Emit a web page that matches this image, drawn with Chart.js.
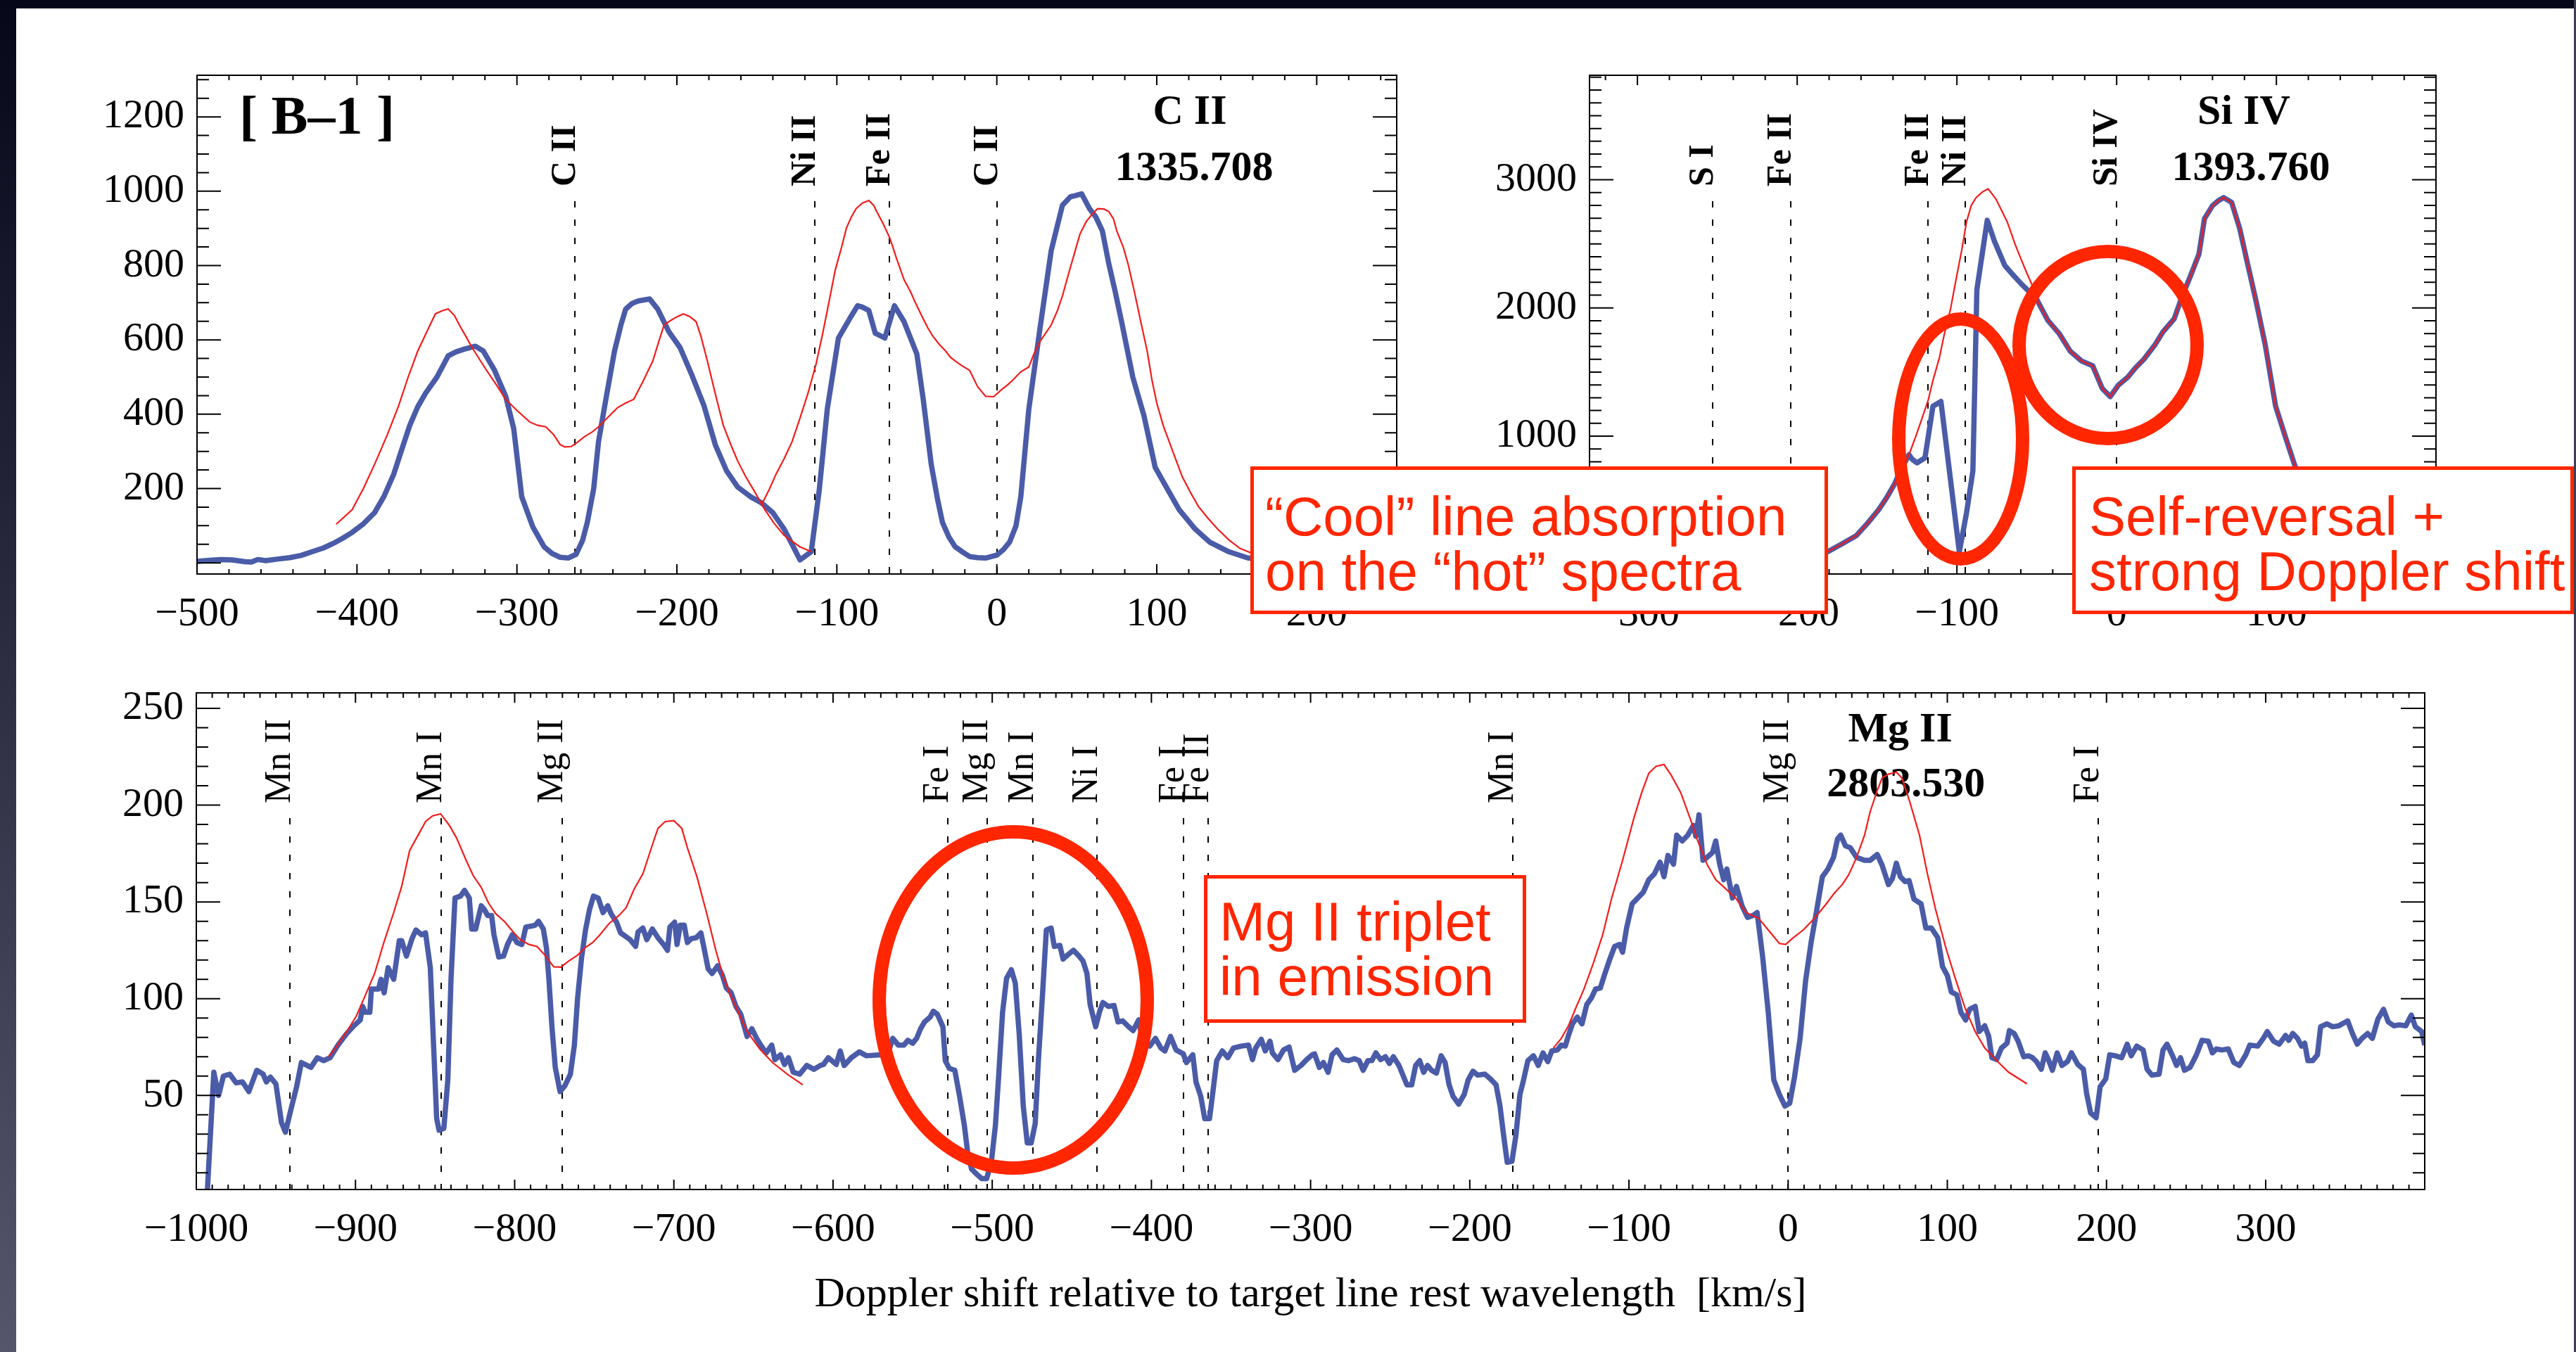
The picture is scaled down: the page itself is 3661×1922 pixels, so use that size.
<!DOCTYPE html>
<html>
<head>
<meta charset="utf-8">
<script src="https://cdn.jsdelivr.net/npm/chart.js@4/dist/chart.umd.min.js"></script>
<style>
  body { margin: 0; width: 3661px; height: 1922px; overflow: hidden; position: relative; background: #fff; }
  canvas { position: absolute; }
  .note { position: absolute; box-sizing: border-box; border: 5px solid #ff2600; background: #fff; color: #ff2600;
          font: 78px/78px "Liberation Sans", Arial, sans-serif; white-space: nowrap; }
  .ring { position: absolute; box-sizing: border-box; border: 19px solid #ff2600; border-radius: 50%; }
  .band { position: absolute; }
</style>
</head>
<body>
<canvas id="cTL" width="1915" height="899" style="left:80px;top:47px"></canvas>
<canvas id="cTR" width="1413" height="899" style="left:2059px;top:47px"></canvas>
<canvas id="cB" width="3377" height="952" style="left:79px;top:925px"></canvas>

<div class="ring" style="left:2689px;top:444px;width:195px;height:360px"></div>
<div class="ring" style="left:2860px;top:348px;width:272px;height:285px"></div>
<div class="ring" style="left:1240px;top:1173px;width:400px;height:497px"></div>

<div class="note" style="left:1777px;top:663px;width:821px;height:210px;padding:27px 0 0 16px">“Cool” line absorption<br>on the “hot” spectra</div>
<div class="note" style="left:2945px;top:663px;width:713px;height:210px;padding:27px 0 0 19px">Self-reversal +<br>strong Doppler shift</div>
<div class="note" style="left:1711px;top:1244px;width:458px;height:210px;padding:22px 0 0 17px">Mg II triplet<br>in emission</div>

<div class="band" style="left:0;top:0;width:3661px;height:12px;background:#07071a"></div>
<div class="band" style="left:0;top:0;width:23px;height:1922px;background:linear-gradient(#07071a,#55556c)"></div>
<div class="band" style="left:3658px;top:0;width:3px;height:1922px;background:#3e3d52"></div>

<script>
// ---- C II 1335.708 panel ----
const ciiVel = [
  -500, -492, -485, -478, -470, -466, -462, -457, -450, -442,
  -435, -428, -421, -415, -409, -403, -396, -389, -383, -377,
  -372, -367, -362, -357, -350, -343, -338, -333, -326, -321,
  -314, -307, -302, -297, -290, -283, -278, -273, -268, -263,
  -259, -256, -252, -249, -244, -239, -235, -232, -228, -224,
  -217, -212, -205, -198, -191, -183, -176, -169, -162, -154,
  -147, -140, -133, -128, -123, -116, -111, -106, -99, -92,
  -87, -84, -80, -76, -70, -64, -58, -50, -46, -41,
  -37, -34, -30, -26, -21, -17, -12, -7, 0, 4,
  8, 12, 15, 20, 27, 34, 41, 46, 49, 53,
  58, 62, 66, 70, 74, 78, 85, 92, 99, 107,
  114, 124, 133, 145, 157, 170, 190, 220, 250
];
const ciiObs = [
  4, 7, 9, 8, 3, 2, 9, 6, 10, 14,
  20, 30, 40, 52, 66, 82, 105, 135, 180, 239,
  305, 370, 420, 457, 500, 557, 568, 575, 583, 570,
  518, 448, 361, 178, 96, 43, 25, 15, 13, 23,
  60, 109, 200, 326, 450, 570, 640, 683, 698, 705,
  710, 683, 622, 579, 509, 422, 318, 248, 204, 178,
  161, 135, 91, 50, 8, 30, 196, 413, 605, 657,
  692, 688, 679, 618, 605, 692, 649, 562, 440, 265,
  170, 109, 70, 43, 28, 17, 14, 13, 21, 35,
  56, 100, 178, 413, 631, 840, 962, 985, 988, 993,
  953, 930, 893, 805, 730, 649, 500, 396, 257, 196,
  143, 91, 56, 30, 13, 8, 5, 3, 3
];
const ciiRefVelA = [
  -413, -403, -396, -389, -381, -374, -368, -362, -356, -351,
  -347, -343, -339, -336, -332, -328, -323, -319, -313, -307,
  -300, -292, -287, -282, -277, -273, -270, -266, -262, -258,
  -253, -249, -243, -237, -232, -227, -221, -215, -211, -208,
  -204, -200, -196, -192, -188, -185, -181, -176, -171, -166,
  -162, -157, -152, -145, -139, -133, -128, -123, -116
];
const ciiRefA = [
  104, 143, 200, 265, 345, 422, 500, 570, 625, 670,
  678, 683, 665, 640, 610, 579, 545, 518, 480, 440,
  410, 379, 370, 366, 345, 318, 312, 313, 325, 339,
  352, 366, 392, 418, 430, 440, 490, 544, 600, 640,
  652, 662, 670, 663, 649, 610, 544, 455, 370, 315,
  274, 232, 196, 143, 105, 74, 58, 43, 30
];
const ciiRefVelB = [
  -147, -142, -138, -133, -128, -123, -118, -113, -109, -105,
  -101, -97, -94, -91, -88, -84, -80, -77, -75, -71,
  -67, -65, -63, -58, -54, -51, -47, -43, -40, -36,
  -32, -29, -25, -22, -17, -12, -7, -2, 3, 7,
  10, 15, 20, 23, 27, 34, 38, 41, 45, 49,
  52, 56, 60, 63, 67, 70, 73, 75, 79, 82,
  86, 90, 94, 97, 100, 104, 110, 116, 121, 126,
  132, 138, 145, 152, 160, 170
];
const ciiRefB = [
  157, 200, 239, 280, 326, 390, 457, 535, 614, 700,
  788, 850, 901, 930, 953, 968, 975, 962, 945, 912,
  875, 850, 823, 762, 730, 701, 665, 631, 610, 588,
  570, 553, 540, 531, 518, 474, 448, 447, 466, 480,
  492, 514, 527, 560, 596, 640, 680, 718, 780, 840,
  885, 919, 940, 953, 952, 945, 925, 893, 850, 805,
  730, 649, 570, 492, 430, 370, 300, 231, 190, 152,
  120, 91, 62, 39, 25, 15
];
const ciiLines = [-263.6, -113.6, -67, 0];
const ciiNames = ['C II', 'Ni II', 'Fe II', 'C II'];
const ciiXTicks = [-500, -400, -300, -200, -100, 0, 100, 200];
const ciiYTicks = [0, 200, 400, 600, 800, 1000, 1200];

// ---- Si IV 1393.760 panel ----
const siivVel = [
  -330, -300, -270, -240, -210, -190, -181, -172, -163, -156,
  -149, -144, -139, -135, -130, -128, -125, -122, -120, -115,
  -110, -98.5, -94, -90, -87.5, -81, -76.5, -70, -65, -60,
  -55, -50, -43, -36, -29, -22, -15, -9, -4, 1,
  7, 12, 17, 24, 29, 36, 41, 46, 51.5, 55,
  60, 64, 67, 72, 77, 82, 87.5, 93, 99.5, 106,
  112, 120, 130, 145, 165, 199.9
];
const siivObs = [
  20, 25, 30, 40, 55, 80, 98, 160, 224, 320,
  426, 520, 628, 740, 855, 820, 792, 815, 830, 1234,
  1271, 98, 400, 729, 2142, 2684, 2520, 2331, 2260, 2192,
  2130, 2066, 1902, 1801, 1662, 1587, 1549, 1372, 1309, 1397,
  1460, 1536, 1599, 1713, 1814, 1915, 2091, 2243, 2419, 2697,
  2798, 2840, 2861, 2823, 2621, 2343, 2041, 1713, 1234, 981,
  754, 500, 300, 180, 120, 80
];
const siivRefVel = [
  -330, -300, -270, -240, -210, -190, -181, -172, -163, -156,
  -149, -144, -139, -135, -130, -126, -122, -118, -115, -111,
  -108, -104, -101, -97, -94, -91, -88, -84, -80.5, -78,
  -75.5, -72, -68.5, -63.5, -60, -56.5, -53, -50, -43, -36,
  -29, -22, -15, -9, -4, 1, 7, 12, 17, 24,
  29, 36, 41, 46, 51.5, 55, 60, 64, 67, 72,
  77, 82, 87.5, 93, 99.5, 106, 112, 120, 130, 145,
  165, 199.9
];
const siivRef = [
  20, 25, 30, 40, 55, 80, 98, 160, 224, 320,
  426, 520, 628, 740, 855, 990, 1133, 1280, 1435, 1610,
  1789, 1990, 2192, 2450, 2671, 2800, 2861, 2905, 2929, 2890,
  2848, 2760, 2671, 2495, 2385, 2280, 2180, 2066, 1902, 1801,
  1662, 1587, 1549, 1372, 1309, 1397, 1460, 1536, 1599, 1713,
  1814, 1915, 2091, 2243, 2419, 2697, 2798, 2840, 2861, 2823,
  2621, 2343, 2041, 1713, 1234, 981, 754, 500, 300, 180,
  120, 80
];
const siivLines = [-253, -204, -118, -95, 0];
const siivNames = ['S I', 'Fe II', 'Fe II', 'Ni II', 'Si IV'];
const siivXTicks = [-300, -200, -100, 0, 100];
const siivYTicks = [0, 1000, 2000, 3000];

// ---- Mg II 2803.530 panel ----
const mgiiVel = [
  -993, -989, -986, -983, -979, -975, -971, -967, -962, -958,
  -956, -953.5, -950, -946.5, -944, -940.5, -937, -934, -928, -924,
  -920, -916, -911, -905.5, -901, -897, -895.5, -894, -891, -890,
  -885.5, -884, -882, -879.5, -876, -872.5, -871, -868, -864.5, -862,
  -858.5, -856, -853, -849, -847.5, -844.5, -842, -840, -837.5, -834,
  -831.5, -828.5, -827, -824.5, -821, -819, -817, -814.5, -813, -810,
  -807, -804.5, -801.5, -798.5, -795.5, -793, -789.5, -787, -785, -782,
  -780, -778.5, -776.5, -774.5, -771.5, -768.5, -765, -762.5, -760.5, -758,
  -755.5, -753, -750.5, -747.5, -744.5, -741.5, -739.5, -736, -733.5, -730,
  -727.5, -724, -722.5, -719.5, -717, -713.5, -710, -706.5, -704, -702.5,
  -699.5, -698, -696, -693.5, -691.5, -689, -686, -683, -681, -678.5,
  -676, -672.5, -669.5, -667, -664, -661, -658, -654, -651, -648,
  -645, -642, -638.5, -636.5, -633, -630.5, -628, -625, -621, -616.5,
  -612, -608, -606, -603, -598, -595.5, -593, -588.5, -583.5, -579,
  -570, -565, -562.5, -559, -555.5, -553, -550, -547.5, -545, -542.5,
  -539, -537, -534.5, -531, -529.5, -527, -523.5, -520.5, -517.5, -515.5,
  -513, -510, -506.5, -503.5, -500.5, -498, -496, -493.5, -491, -488,
  -485.5, -483, -480.5, -478, -475.5, -473, -471, -468.5, -466, -463,
  -461, -457.5, -455.5, -452, -449, -445.5, -443, -440.5, -438.5, -435,
  -432.5, -430.5, -427, -423.5, -421, -418, -415, -411.5, -408, -405.5,
  -401, -397.5, -394, -391.5, -388, -384.5, -380, -378, -374, -372,
  -369, -366.5, -363.5, -361.5, -359, -355.5, -352, -348.5, -343.5, -339,
  -336.5, -334.5, -331, -328.5, -325.5, -324, -320.5, -317, -313.5, -310,
  -306, -302.5, -299, -297.5, -294.5, -292, -289, -286.5, -283.5, -279.5,
  -276, -272.5, -269.5, -267, -264, -261.5, -259, -256, -253, -250.5,
  -248, -244.5, -242, -239.5, -236.5, -234, -231.5, -229, -226.5, -224,
  -221, -218, -215.5, -213, -210.5, -207, -203.5, -201, -198, -195,
  -190.5, -187, -183.5, -181, -179, -176.5, -173.5, -171, -168.5, -166.5,
  -163.5, -160, -157, -154, -151, -148.5, -145, -142.5, -140, -138,
  -135.5, -132.5, -129.5, -126.5, -123.5, -121, -118, -115.5, -112, -109,
  -106, -104, -101.5, -98, -94.5, -91, -87.5, -84, -80.5, -78,
  -75.5, -72, -70, -66.5, -63, -59.5, -58, -56, -53.5, -51,
  -47.5, -45.5, -43, -40.5, -38.5, -35, -32.5, -29, -25.5, -22,
  -19.5, -16, -12.5, -9, -5.5, -2, 1, 4, 7.5, 11,
  14.5, 18, 21.5, 25, 28.5, 31, 33, 36, 39, 43,
  48, 51.5, 56, 59, 63, 65.5, 68, 70.5, 73.5, 76,
  79, 83.5, 86.5, 90, 94, 97, 100, 102.5, 106, 108.5,
  111.5, 114, 117.5, 120, 123.5, 126, 128, 131, 134, 137.5,
  139, 142, 144.5, 148, 151, 153.5, 156, 159, 161.5, 163.5,
  166, 169, 172, 175.5, 178, 182, 185.5, 187.5, 190, 193.5,
  196, 199.5, 202, 205.5, 209.5, 213, 215.5, 219, 223, 225.5,
  228.5, 233, 235.5, 238, 241.5, 244, 246.5, 249, 252.5, 256.5,
  260, 264, 266.5, 269, 272.5, 276.5, 280, 283.5, 287.5, 290,
  295, 298.5, 301, 305, 308.5, 312.5, 314.5, 317, 320, 322.5,
  324.5, 326.5, 329.5, 332.5, 334.5, 338.5, 342, 346, 348, 351.5,
  354.5, 357.5, 360.5, 364, 367, 370.5, 374, 377, 380.5, 384,
  388, 391.5, 394, 398, 399.9
];
const mgiiObs = [
  1.5, 62, 50, 60, 61, 56.5, 57, 52, 63, 61,
  57, 59.5, 56, 36, 31, 43, 54.5, 67, 64.5, 69.5,
  68, 69.5, 76, 82, 86, 89, 96, 93, 93, 105,
  105, 110, 103, 116, 110, 130, 130, 122, 131, 135.5,
  133, 134, 116, 38, 32, 33, 58, 110, 152, 153,
  156, 152, 136, 136, 148, 146, 143, 143, 133, 121.5,
  122, 128, 133, 129, 128, 137, 137.5, 138, 140, 136,
  126, 110, 84.5, 64.5, 52, 55, 61, 76, 100, 121,
  135.5, 146, 153, 152, 144.5, 148, 144, 139.5, 134, 132,
  130.5, 127, 134.5, 136.5, 130.5, 136, 131.5, 128, 125, 137,
  139.5, 128, 138, 138, 129, 131, 131.5, 134, 126, 115.5,
  113, 117, 112, 105.5, 103, 96, 92, 80.5, 84.5, 79.5,
  75.5, 72, 76, 68.5, 71, 66, 69.5, 62, 61, 65.5,
  63.5, 65.5, 66, 69.5, 66, 73, 65.5, 69.5, 72.5, 70.5,
  71, 73, 79.5, 76, 76, 78.5, 77, 79.5, 84.5, 88,
  90.5, 93.5, 92, 85.5, 68, 64, 63, 49.5, 34.5, 21,
  12, 9.5, 7, 7, 16, 34.5, 59.5, 93, 110.5, 115,
  108, 81, 44.5, 25.5, 25.5, 35.5, 68, 101, 135.5, 136.5,
  127, 127.5, 120.5, 123, 125, 122, 119.5, 113, 97, 85.5,
  93.5, 98, 96, 96.5, 88, 88.5, 86, 83.5, 89, 78,
  75.5, 79.5, 74.5, 73, 80.5, 73.5, 71.5, 67, 71, 57,
  49.5, 38, 38, 51, 68, 73, 69.5, 74.5, 75.5, 76,
  68.5, 74.5, 79, 73, 78, 72, 68.5, 73.5, 75, 63,
  65.5, 68.5, 71, 71.5, 64.5, 67, 62, 71, 73.5, 68.5,
  68, 69, 68, 63, 68, 68, 72, 68.5, 70, 66.5,
  70, 65.5, 60.5, 55.5, 55.5, 65.5, 68, 62, 65.5, 63,
  61.5, 70.5, 67, 55.5, 49.5, 45.5, 50.5, 58, 62.5, 60.5,
  61, 58.5, 55.5, 44.5, 31, 15.5, 16, 29.5, 50.5, 57,
  68, 70.5, 65.5, 72, 67.5, 73, 73.5, 76, 75.5, 81,
  87, 90.5, 87, 97, 100.5, 105, 105.5, 112, 120.5, 127,
  128, 124, 136.5, 149, 152, 155, 161.5, 164.5, 170.5, 163,
  174, 169.5, 184.5, 181.5, 184.5, 189.5, 184, 195, 171.5, 173,
  175.5, 181.5, 169.5, 161.5, 167, 152, 158, 148, 142, 143,
  144.5, 121.5, 93, 58, 50.5, 44.5, 46, 59.5, 79.5, 109.5,
  129.5, 146, 163, 167, 173, 182.5, 184.5, 179, 178, 173,
  171.5, 171.5, 174.5, 169, 159, 162, 170, 163, 160.5, 161,
  151.5, 149, 136.5, 136.5, 131.5, 116.5, 112, 103.5, 102, 93,
  89, 94.5, 96, 83, 86, 80.5, 69.5, 68.5, 74.5, 77,
  83.5, 82, 78, 70, 70.5, 69.5, 67.5, 63.5, 72, 68.5,
  63, 72, 65.5, 67.5, 72, 66, 63.5, 51, 41, 38.5,
  54.5, 58.5, 71, 70.5, 69.5, 76.5, 70.5, 75.5, 73.5, 63.5,
  60.5, 61, 73.5, 76.5, 70.5, 65.5, 69.5, 63, 64.5, 71,
  78.5, 78, 72, 74, 73.5, 74, 67, 65.5, 71, 76,
  75.5, 79.5, 83, 78, 76.5, 81, 78.5, 82, 79.5, 75.5,
  77, 68, 68, 71, 85.5, 87, 85.5, 86, 87, 88.5,
  82, 76.5, 79.5, 82, 79.5, 89.5, 94.5, 88, 86, 86.5,
  86, 91.5, 85.5, 83, 76
];
const mgiiRefVelA = [
  -917, -912.5, -905.5, -899.5, -895, -888, -882, -876, -871, -866,
  -861, -856, -851.5, -846.5, -841, -836.5, -830.5, -826, -821, -816.5,
  -812, -806, -801, -796.5, -791, -786, -781.5, -775.5, -771, -766,
  -760.5, -755.5, -751, -746.5, -740.5, -734.5, -730, -725, -719.5, -713.5,
  -710, -705.5, -700, -695, -691.5, -685.5, -679.5, -673.5, -669, -664.5,
  -659.5, -654, -646, -638, -628, -619
];
const mgiiRefA = [
  70, 74.5, 83, 91, 99.5, 113, 129.5, 144.5, 158, 176.5,
  184, 191.5, 194.5, 195.5, 189.5, 183, 171.5, 163.5, 157.5, 149.5,
  144, 139.5, 134.5, 130.5, 128, 127, 123, 116.5, 116.3, 119.5,
  122.5, 126.5, 129, 133, 139, 143, 147, 156.5, 164.5, 179.5,
  188, 191.5, 192, 188, 178, 163, 144.5, 124.5, 111.5, 102,
  93, 83, 74, 67, 60.5, 55.5
];
const mgiiRefVelB = [
  -147.5, -142.5, -138, -133, -128.5, -122.5, -116.5, -111, -104, -97,
  -92, -87.5, -83, -78, -73.5, -67.5, -61.5, -57, -51, -45.5,
  -39.5, -32.5, -26.5, -18.5, -11.5, -5.5, -1.5, 2.5, 9.5, 16.5,
  23.5, 29, 34, 38, 43, 48, 51.5, 55.5, 59, 63,
  68, 71.5, 76.5, 82.5, 87.5, 92.5, 99, 105, 111, 117.5,
  123.5, 131, 138.5, 150
];
const mgiiRefB = [
  74.5, 79.5, 86, 96, 104.5, 118, 133, 151.5, 171.5, 193,
  206.5, 216.5, 220, 221, 215.5, 206.5, 193, 182, 169.5, 161.5,
  157, 151.5, 144.5, 141.5, 134.5, 128.5, 128, 131, 135.5, 141.5,
  148.5, 154.5, 159, 164, 173, 184.5, 196.5, 206.5, 214, 216,
  217, 214, 201.5, 184.5, 164.5, 146.5, 126.5, 110.5, 95.5, 83,
  74.5, 68, 62, 56
];
const mgiiLines = [-941, -846, -770, -528, -503, -474.5, -434, -380, -364.5, -173, 0, 195];
const mgiiNames = ['Mn II', 'Mn I', 'Mg II', 'Fe I', 'Mg II', 'Mn I', 'Ni I', 'Fe I', 'Fe II', 'Mn I', 'Mg II', 'Fe I'];
const mgiiXTicks = [-1000, -900, -800, -700, -600, -500, -400, -300, -200, -100, 0, 100, 200, 300];
const mgiiYTicks = [50, 100, 150, 200, 250];

const axisTitle = 'Doppler shift relative to target line rest wavelength  [km/s]';

const BLUE = '#4a5ba8';
const RED = '#f21c1c';
const FONT = '"Liberation Serif", "Times New Roman", serif';

const fmt = v => (v < 0 ? '\u2212' + (-v) : String(v));
const fmtNoZero = v => (v === 0 ? '' : fmt(v));

function pts(xs, ys) {
  return xs.map((x, i) => ({ x: x, y: ys[i] }));
}
function obs(xs, ys) {
  return { data: pts(xs, ys), showLine: true, borderColor: BLUE, borderWidth: 7.5,
           borderJoinStyle: 'round', pointRadius: 0, order: 1, clip: 0 };
}
function ref(xs, ys) {
  return { data: pts(xs, ys), showLine: true, borderColor: RED, borderWidth: 2.2,
           pointRadius: 0, order: 0, clip: 0 };
}

// decorations per panel: line ids, labels, minor ticks
const panels = {
  cTL: {
    minorX: 20, minorY: 50, dashTop: 179, labelBottom: 158,
    lineFont: 'bold 50px ' + FONT, lines: ciiLines, names: ciiNames,
    titles: [
      { text: 'C II', v: 120.7, y: 69, font: 'bold 60px ' + FONT },
      { text: '1335.708', v: 123.3, y: 149, font: 'bold 60px ' + FONT },
      { text: '[ B\u20131 ]', v: -425, y: 82.5, font: 'bold 78px ' + FONT }
    ]
  },
  cTR: {
    minorX: 20, minorY: 100, dashTop: 179, labelBottom: 158,
    lineFont: 'bold 50px ' + FONT, lines: siivLines, names: siivNames,
    titles: [
      { text: 'Si IV', v: 79.6, y: 69, font: 'bold 60px ' + FONT },
      { text: '1393.760', v: 84, y: 149, font: 'bold 60px ' + FONT }
    ]
  },
  cB: {
    minorX: 10, minorY: 10, dashTop: 178, labelBottom: 157,
    lineFont: '52px ' + FONT, lines: mgiiLines, names: mgiiNames,
    titles: [
      { text: 'Mg II', v: 70.4, y: 68.5, font: 'bold 60px ' + FONT },
      { text: '2803.530', v: 74, y: 146.5, font: 'bold 60px ' + FONT }
    ]
  }
};

const panelDecor = {
  id: 'panelDecor',
  beforeDatasetsDraw(chart) {
    const p = panels[chart.canvas.id];
    const ctx = chart.ctx, a = chart.chartArea, x = chart.scales.x;
    ctx.save();
    ctx.strokeStyle = '#000';
    ctx.lineWidth = 2;
    ctx.setLineDash([9, 17]);
    p.lines.forEach(v => {
      const px = Math.round(x.getPixelForValue(v));
      ctx.beginPath();
      ctx.moveTo(px, a.top + p.dashTop);
      ctx.lineTo(px, a.bottom);
      ctx.stroke();
    });
    ctx.setLineDash([]);
    ctx.fillStyle = '#000';
    ctx.font = p.lineFont;
    ctx.textAlign = 'left';
    ctx.textBaseline = 'alphabetic';
    p.lines.forEach((v, i) => {
      ctx.save();
      ctx.translate(Math.round(x.getPixelForValue(v)), a.top + p.labelBottom);
      ctx.rotate(-Math.PI / 2);
      ctx.fillText(p.names[i], 0, 0);
      ctx.restore();
    });
    ctx.textAlign = 'center';
    p.titles.forEach(t => {
      ctx.font = t.font;
      ctx.fillText(t.text, x.getPixelForValue(t.v), a.top + t.y);
    });
    ctx.restore();
  },
  afterDatasetsDraw(chart) {
    const p = panels[chart.canvas.id];
    const ctx = chart.ctx, a = chart.chartArea;
    const x = chart.scales.x, y = chart.scales.y;
    const mark = (scale, minor, fn) => {
      const majors = scale.ticks.map(t => t.value);
      majors.forEach(v => fn(scale.getPixelForValue(v), true));
      for (let k = Math.ceil(scale.min / minor); k * minor <= scale.max; k++) {
        const v = k * minor;
        if (!majors.some(m => Math.abs(m - v) < 1e-6)) fn(scale.getPixelForValue(v), false);
      }
    };
    ctx.save();
    ctx.strokeStyle = '#000';
    ctx.lineWidth = 2;
    ctx.beginPath();
    mark(x, p.minorX, (px, big) => {
      const l = big ? 14 : 7;
      ctx.moveTo(px, a.bottom); ctx.lineTo(px, a.bottom - l);
      ctx.moveTo(px, a.top); ctx.lineTo(px, a.top + l);
    });
    mark(y, p.minorY, (py, big) => {
      const l = big ? 34 : 17;
      ctx.moveTo(a.left, py); ctx.lineTo(a.left + l, py);
      ctx.moveTo(a.right, py); ctx.lineTo(a.right - l, py);
    });
    ctx.stroke();
    ctx.strokeRect(a.left, a.top, a.right - a.left, a.bottom - a.top);
    ctx.restore();
  }
};

function panel(id, datasets, xr, yr, o) {
  const tickFont = { family: FONT, size: 58 };
  return new Chart(document.getElementById(id), {
    type: 'scatter',
    data: { datasets: datasets },
    options: {
      responsive: false,
      animation: false,
      devicePixelRatio: 1,
      events: [],
      layout: { padding: { top: 60, right: 10, bottom: 0, left: 0 } },
      plugins: { legend: { display: false }, tooltip: { enabled: false } },
      scales: {
        x: {
          type: 'linear', min: xr[0], max: xr[1],
          grid: { display: false, drawTicks: false },
          border: { display: false },
          afterBuildTicks: s => { s.ticks = o.xTicks.map(v => ({ value: v })); },
          ticks: { autoSkip: false, maxRotation: 0, minRotation: 0,
                   padding: 23, color: '#000', font: tickFont, callback: v => fmt(v) },
          title: o.title
            ? { display: true, text: o.title, color: '#000', font: { family: FONT, size: 60 }, padding: { top: 0, bottom: 0 } }
            : { display: false },
          afterFit: s => { s.height = o.xH; }
        },
        y: {
          type: 'linear', min: yr[0], max: yr[1],
          grid: { display: false, drawTicks: false },
          border: { display: false },
          afterBuildTicks: s => { s.ticks = o.yTicks.map(v => ({ value: v })); },
          ticks: { autoSkip: false, padding: 18, color: '#000', font: tickFont, callback: v => fmtNoZero(v) },
          afterFit: s => { s.width = 200; }
        }
      }
    },
    plugins: [panelDecor]
  });
}

panel('cTL',
  [ref(ciiRefVelA, ciiRefA), ref(ciiRefVelB, ciiRefB), obs(ciiVel, ciiObs)],
  [-500, 250], [-30, 1312], { xTicks: ciiXTicks, yTicks: ciiYTicks, xH: 130 });

panel('cTR',
  [ref(siivRefVel, siivRef), obs(siivVel, siivObs)],
  [-330, 199.9], [-75, 3815], { xTicks: siivXTicks, yTicks: siivYTicks, xH: 130 });

panel('cB',
  [ref(mgiiRefVelA, mgiiRefA), ref(mgiiRefVelB, mgiiRefB), obs(mgiiVel, mgiiObs)],
  [-1000, 399.9], [1.4, 258], { xTicks: mgiiXTicks, yTicks: mgiiYTicks, xH: 186, title: axisTitle });
</script>
</body>
</html>
